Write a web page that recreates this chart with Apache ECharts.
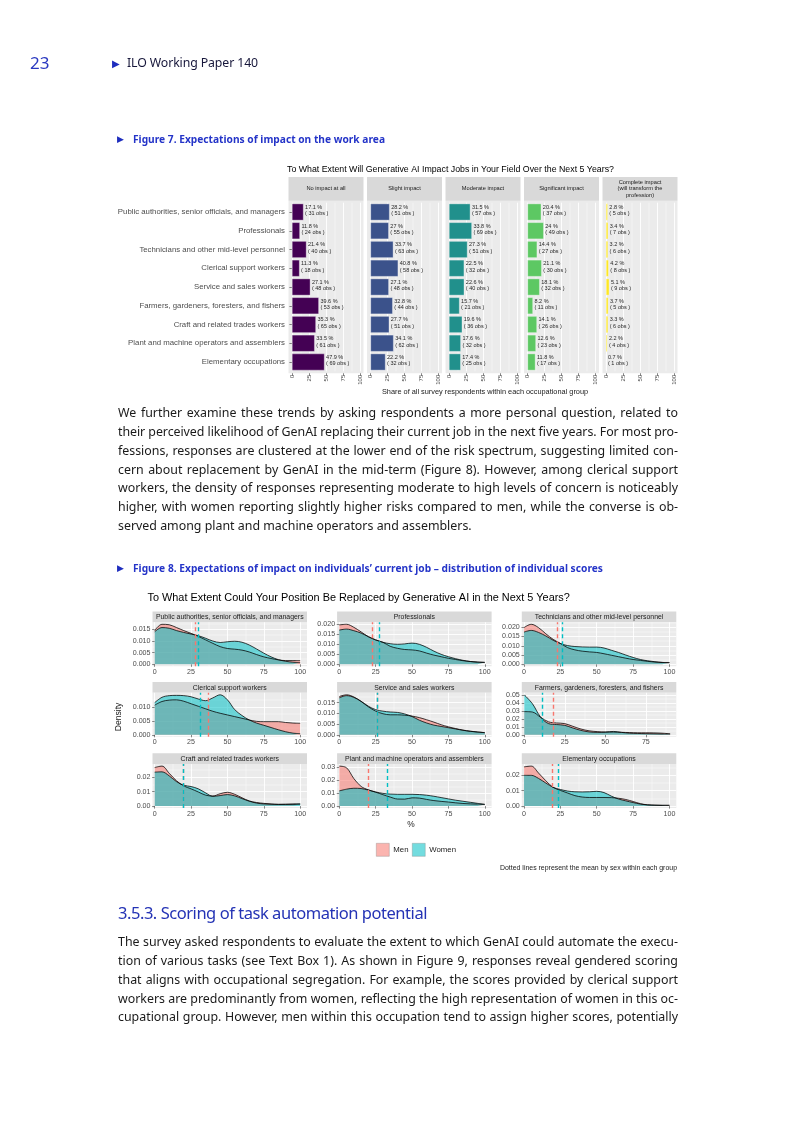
<!DOCTYPE html>
<html><head><meta charset="utf-8">
<script src="https://cdn.jsdelivr.net/npm/echarts@6/dist/echarts.min.js"></script>
<style>
html,body{margin:0;padding:0;background:#fff;}
#page{position:relative;width:793px;height:1121px;overflow:hidden;background:#fff;}
#chart{position:absolute;left:0;top:0;width:793px;height:1121px;z-index:1;}
.t{position:absolute;white-space:nowrap;font-family:"Noto Sans",sans-serif;color:#1a1a1a;z-index:2;}
.p{font-size:12.4px;line-height:18px;}
.ft{font-size:10.2px;line-height:12px;font-weight:bold;color:#2434C8;}
</style></head><body>
<div id="page">
<div id="chart"></div>
<div class="t" style="left:30px;top:52px;font-size:17px;line-height:22px;color:#2a38c0;">23</div>
<div class="t" style="left:112px;top:56px;font-size:10px;line-height:14px;color:#1E2DBE;">▶</div>
<div class="t" data-w="131" style="left:127px;top:55px;font-size:12.3px;line-height:16px;color:#16163a;">ILO Working Paper 140</div>

<div class="t" style="left:117px;top:133px;font-size:8.5px;line-height:12px;color:#1E2DBE;">▶</div>
<div class="t ft" data-w="252" data-m="ls" style="left:133px;top:133px;">Figure 7. Expectations of impact on the work area</div>

<div class="t p" data-w="560" style="left:118px;top:404px;">We further examine these trends by asking respondents a more personal question, related to</div>
<div class="t p" data-w="560" style="left:118px;top:423px;">their perceived likelihood of GenAI replacing their current job in the next five years. For most pro-</div>
<div class="t p" data-w="560" style="left:118px;top:442px;">fessions, responses are clustered at the lower end of the risk spectrum, suggesting limited con-</div>
<div class="t p" data-w="560" style="left:118px;top:460.5px;">cern about replacement by GenAI in the mid-term (Figure 8). However, among clerical support</div>
<div class="t p" data-w="560" style="left:118px;top:479px;">workers, the density of responses representing moderate to high levels of concern is noticeably</div>
<div class="t p" data-w="560" style="left:118px;top:498px;">higher, with women reporting slightly higher risks compared to men, while the converse is ob-</div>
<div class="t p" style="left:118px;top:517px;">served among plant and machine operators and assemblers.</div>

<div class="t" style="left:117px;top:562px;font-size:8.5px;line-height:12px;color:#1E2DBE;">▶</div>
<div class="t ft" data-w="470" data-m="ls" style="left:133px;top:562px;">Figure 8. Expectations of impact on individuals’ current job – distribution of individual scores</div>

<div class="t" data-w="309" data-m="ls" style="left:118px;top:902px;font-size:16.5px;line-height:22px;color:#2433B5;">3.5.3. Scoring of task automation potential</div>

<div class="t p" data-w="560" style="left:118px;top:933px;">The survey asked respondents to evaluate the extent to which GenAI could automate the execu-</div>
<div class="t p" data-w="560" style="left:118px;top:952px;">tion of various tasks (see Text Box 1). As shown in Figure 9, responses reveal gendered scoring</div>
<div class="t p" data-w="560" style="left:118px;top:971px;">that aligns with occupational segregation. For example, the scores provided by clerical support</div>
<div class="t p" data-w="560" style="left:118px;top:990px;">workers are predominantly from women, reflecting the high representation of women in this oc-</div>
<div class="t p" data-w="560" style="left:118px;top:1008px;">cupational group. However, men within this occupation tend to assign higher scores, potentially</div>
</div>
<script>
// ---------- Figure 7 data ----------
const occupations = ['Public authorities, senior officials, and managers','Professionals','Technicians and other mid-level personnel','Clerical support workers','Service and sales workers','Farmers, gardeners, foresters, and fishers','Craft and related trades workers','Plant and machine operators and assemblers','Elementary occupations'];
const impactLevels = ['No impact at all','Slight impact','Moderate impact','Significant impact','Complete impact\n(will transform the\nprofession)'];
const shareNone = [17.1,11.8,21.4,11.3,27.1,39.6,35.3,33.5,47.9];
const obsNone = [31,24,40,18,48,53,65,61,69];
const shareSlight = [28.2,27,33.7,40.8,27.1,32.8,27.7,34.1,22.2];
const obsSlight = [51,55,63,58,48,44,51,62,32];
const shareModerate = [31.5,33.8,27.3,22.5,22.6,15.7,19.6,17.6,17.4];
const obsModerate = [57,69,51,32,40,21,36,32,25];
const shareSignificant = [20.4,24,14.4,21.1,18.1,8.2,14.1,12.6,11.8];
const obsSignificant = [37,49,27,30,32,11,26,23,17];
const shareComplete = [2.8,3.4,3.2,4.2,5.1,3.7,3.3,2.2,0.7];
const obsComplete = [5,7,6,8,9,5,6,4,1];
const shareTicks = [0,25,50,75,100];
const shareMinorTicks = [12.5,37.5,62.5,87.5];

// ---------- Figure 8 data ----------
const panelNames = ['Public authorities, senior officials, and managers','Professionals','Technicians and other mid-level personnel','Clerical support workers','Service and sales workers','Farmers, gardeners, foresters, and fishers','Craft and related trades workers','Plant and machine operators and assemblers','Elementary occupations'];
const scoreGrid = [0,5,10,15,20,25,30,35,40,45,50,55,60,65,70,75,80,85,90,95,100];
const scoreGridFarmers = [0,5,10,15,20,25,30,35,40,45,50,55,60,65,70,75,80,85,90];
const menPublic = [0.0145,0.0172,0.0170,0.0158,0.0145,0.0133,0.0120,0.0105,0.0090,0.0076,0.0068,0.0065,0.0061,0.0053,0.0042,0.0032,0.0025,0.0019,0.0016,0.0016,0.0016];
const womenPublic = [0.0140,0.0158,0.0155,0.0145,0.0137,0.0130,0.0123,0.0112,0.0100,0.0094,0.0097,0.0099,0.0095,0.0083,0.0066,0.0048,0.0032,0.0020,0.0013,0.0009,0.0007];
const menProf = [0.0197,0.0200,0.0185,0.0162,0.0138,0.0122,0.0110,0.0090,0.0080,0.0074,0.0072,0.0067,0.0056,0.0046,0.0038,0.0030,0.0024,0.0018,0.0014,0.0011,0.0010];
const womenProf = [0.0171,0.0176,0.0168,0.0156,0.0138,0.0122,0.0110,0.0103,0.0100,0.0102,0.0106,0.0100,0.0085,0.0066,0.0050,0.0038,0.0028,0.0020,0.0014,0.0011,0.0009];
const menTech = [0.0198,0.0216,0.0198,0.0165,0.0135,0.0113,0.0090,0.0078,0.0071,0.0067,0.0064,0.0057,0.0049,0.0041,0.0033,0.0026,0.0021,0.0016,0.0012,0.0010,0.0009];
const womenTech = [0.0174,0.0183,0.0172,0.0153,0.0130,0.0112,0.0101,0.0096,0.0094,0.0093,0.0093,0.0088,0.0076,0.0064,0.0050,0.0037,0.0026,0.0019,0.0014,0.0010,0.0009];
const menClerical = [0.0106,0.0119,0.0124,0.0125,0.0120,0.0111,0.0102,0.0093,0.0084,0.0077,0.0071,0.0065,0.0059,0.0053,0.0048,0.0047,0.0047,0.0047,0.0044,0.0042,0.0041];
const womenClerical = [0.0115,0.0134,0.0140,0.0141,0.0140,0.0136,0.0128,0.0122,0.0132,0.0143,0.0125,0.0090,0.0069,0.0053,0.0042,0.0034,0.0026,0.0018,0.0011,0.0006,0.0004];
const menService = [0.0178,0.0186,0.0176,0.0155,0.0130,0.0110,0.0098,0.0093,0.0093,0.0091,0.0087,0.0080,0.0070,0.0059,0.0047,0.0037,0.0029,0.0022,0.0017,0.0013,0.0010];
const womenService = [0.0172,0.0182,0.0174,0.0156,0.0133,0.0117,0.0110,0.0106,0.0104,0.0097,0.0085,0.0068,0.0055,0.0045,0.0039,0.0033,0.0027,0.0021,0.0016,0.0013,0.0010];
const menFarmers = [0.0290,0.0285,0.0220,0.0162,0.0148,0.0140,0.0106,0.0072,0.0050,0.0040,0.0034,0.0034,0.0031,0.0028,0.0025,0.0025,0.0024,0.0020,0.0013];
const womenFarmers = [0.0500,0.0390,0.0225,0.0140,0.0128,0.0118,0.0085,0.0055,0.0036,0.0030,0.0034,0.0042,0.0030,0.0020,0.0017,0.0014,0.0012,0.0010,0.0008];
const menCraft = [0.0268,0.0278,0.0228,0.0176,0.0140,0.0120,0.0098,0.0076,0.0070,0.0086,0.0096,0.0082,0.0058,0.0036,0.0025,0.0019,0.0015,0.0012,0.0012,0.0012,0.0012];
const womenCraft = [0.0236,0.0238,0.0210,0.0170,0.0145,0.0136,0.0120,0.0092,0.0068,0.0073,0.0080,0.0071,0.0052,0.0034,0.0021,0.0015,0.0013,0.0012,0.0013,0.0015,0.0017];
const menPlant = [0.0305,0.0292,0.0210,0.0150,0.0124,0.0106,0.0087,0.0069,0.0054,0.0053,0.0063,0.0061,0.0051,0.0042,0.0036,0.0031,0.0025,0.0020,0.0017,0.0015,0.0013];
const womenPlant = [0.0116,0.0129,0.0136,0.0134,0.0122,0.0108,0.0097,0.0092,0.0090,0.0090,0.0090,0.0088,0.0083,0.0075,0.0065,0.0055,0.0045,0.0037,0.0029,0.0021,0.0013];
const menElementary = [0.0255,0.0260,0.0215,0.0165,0.0122,0.0102,0.0085,0.0068,0.0059,0.0056,0.0056,0.0056,0.0055,0.0051,0.0043,0.0030,0.0016,0.0008,0.0006,0.0005,0.0005];
const womenElementary = [0.0200,0.0200,0.0180,0.0150,0.0122,0.0108,0.0098,0.0093,0.0092,0.0093,0.0096,0.0088,0.0065,0.0046,0.0034,0.0023,0.0013,0.0008,0.0006,0.0005,0.0005];
const meanMen = [28.0,22.5,23.0,37.0,26.0,17.7,19.5,19.6,19.6];
const meanWomen = [29.7,27.8,26.6,31.5,26.4,11.1,19.7,33.2,23.7];
const densityTicks = [[0,0.005,0.010,0.015],[0,0.005,0.010,0.015,0.020],[0,0.005,0.010,0.015,0.020],[0,0.005,0.010],[0,0.005,0.010,0.015],[0,0.01,0.02,0.03,0.04,0.05],[0,0.01,0.02],[0,0.01,0.02,0.03],[0,0.01,0.02]];
const scoreTicks = [0,25,50,75,100];
const scoreTicksFarmers = [0,25,50,75];
const scoreMinorTicks = [12.5,37.5,62.5,87.5];

// ---------- build ----------
const FONT = '"Liberation Sans", Arial, Helvetica, sans-serif';
const chart = echarts.init(document.getElementById('chart'), null, {renderer:'canvas', width:793, height:1121});
const grid=[], xAxis=[], yAxis=[], series=[], graphic=[];
const txt = (text,x,y,size,opts={}) => ({type:'text', silent:true, z:5, x, y, rotation: opts.rotation||0,
  style:{text, fill:opts.fill||'#1a1a1a', fontSize:size, fontFamily:FONT, fontWeight:opts.weight||'normal',
  textAlign:opts.align||'left', textVerticalAlign:'middle', verticalAlign:'middle', lineHeight:opts.lh||size*1.15}});
const rect = (x,y,w,h,fill) => ({type:'rect', silent:true, z:-1, shape:{x,y,width:w,height:h}, style:{fill}});

// Figure 7
const impactShares = [shareNone,shareSlight,shareModerate,shareSignificant,shareComplete];
const impactObs = [obsNone,obsSlight,obsModerate,obsSignificant,obsComplete];
const viridis = ['#440154','#3B528B','#21908C','#5DC863','#FDE725'];
const f7 = {left0:288.5, step:78.5, w:75, stripTop:177, stripH:23.75, panelTop:200.75, panelH:172.5};
const band = f7.panelH/ (occupations.length + 0.2);
const g7Top = f7.panelTop + 0.1*band, g7H = occupations.length*band;
const f7Offset = (f7.panelTop+f7.panelH) - (g7Top+g7H);
graphic.push(txt('To What Extent Will Generative AI Impact Jobs in Your Field Over the Next 5 Years?', 287, 169.5, 8.8, {fill:'#000'}));
impactLevels.forEach((lvl,i)=>{
  const L = f7.left0 + i*f7.step;
  const gi = grid.length;
  grid.push({left:L, top:g7Top, width:f7.w, height:g7H, containLabel:false});
  graphic.push(rect(L, f7.panelTop, f7.w, f7.panelH, '#EBEBEB'));
  graphic.push(rect(L, f7.stripTop, f7.w, f7.stripH, '#D9D9D9'));
  graphic.push(txt(lvl, L+f7.w/2, f7.stripTop+f7.stripH/2, 5.7, {align:'center', lh:6.2, fill:'#1a1a1a'}));
  const xi = xAxis.length;
  xAxis.push({type:'value', gridIndex:gi, min:-5, max:105, offset:f7Offset, axisLine:{show:false},
    axisTick:{show:true, length:2.5, customValues:shareTicks, lineStyle:{color:'#333', width:0.6}},
    axisLabel:{customValues:shareTicks, rotate:90, fontSize:6, color:'#4D4D4D', margin:1.5, fontFamily:FONT},
    splitLine:{show:true, lineStyle:{color:'#fff', width:0.9}}});
  xAxis.push({type:'value', gridIndex:gi, min:-5, max:105, position:'bottom', axisLine:{show:false},
    axisTick:{show:false, customValues:shareMinorTicks}, axisLabel:{show:false, customValues:shareMinorTicks},
    splitLine:{show:true, lineStyle:{color:'#fff', width:0.45}}});
  const yi = yAxis.length;
  yAxis.push({type:'category', gridIndex:gi, data:occupations, inverse:true, axisLine:{show:false},
    axisTick:{show:i===0, length:2.5, alignWithLabel:true, lineStyle:{color:'#333', width:0.6}},
    axisLabel:{show:i===0, fontSize:7.8, color:'#4D4D4D', margin:3.5, fontFamily:FONT},
    splitLine:{show:false}});
  const sh = impactShares[i], ob = impactObs[i];
  series.push({type:'bar', name:lvl, xAxisIndex:xi, yAxisIndex:yi, data:sh, barCategoryGap:'10%', silent:true,
    itemStyle:{color:viridis[i], borderColor:'rgba(255,255,255,0.55)', borderWidth:0.6},
    label:{show:true, position:'right', distance:1.5, offset:[0,-1.5], fontSize:5.5, lineHeight:6.5, color:'#262626', fontFamily:FONT, align:'left',
      formatter:p=>sh[p.dataIndex]+' %\n( '+ob[p.dataIndex]+' obs )'}});
});
graphic.push(txt('Share of all survey respondents within each occupational group', 485, 392, 7.35, {align:'center', fill:'#1a1a1a'}));

// Figure 8
const menSets = [menPublic,menProf,menTech,menClerical,menService,menFarmers,menCraft,menPlant,menElementary];
const womenSets = [womenPublic,womenProf,womenTech,womenClerical,womenService,womenFarmers,womenCraft,womenPlant,womenElementary];
const f8 = {colLeft:[152.5,337.1,521.8], w:154.5, stripTop:[611.5,682,753.3], stripH:10.8, panelH:44};
graphic.push(txt('To What Extent Could Your Position Be Replaced by Generative AI in the Next 5 Years?', 147.5, 598, 10.9, {fill:'#000'}));
const MEN_FILL = '#F8766D', WOMEN_FILL = '#00BFC4';
panelNames.forEach((nm,p)=>{
  const r = Math.floor(p/3), c = p%3;
  const L = f8.colLeft[c], T = f8.stripTop[r] + f8.stripH;
  const gi = grid.length;
  grid.push({left:L, top:T, width:f8.w, height:f8.panelH, show:true, backgroundColor:'#EBEBEB', borderWidth:0, containLabel:false});
  graphic.push(rect(L, f8.stripTop[r], f8.w, f8.stripH, '#D9D9D9'));
  graphic.push(txt(nm, L+f8.w/2, f8.stripTop[r]+f8.stripH/2+0.3, 6.9, {align:'center', fill:'#1a1a1a'}));
  const xs = (p===5) ? scoreGridFarmers : scoreGrid;
  const xmax = (p===5) ? 93.8 : 104.7;
  const xt = (p===5) ? scoreTicksFarmers : scoreTicks;
  const men = menSets[p], women = womenSets[p];
  const m = Math.max(...men, ...women);
  const ymin = -0.05*m, ymax = 1.05*m;
  const yt = densityTicks[p];
  const ystep = yt[1]-yt[0];
  const yminor = yt.map(v=>v+ystep/2).filter(v=>v<ymax);
  const dec = p<5 ? 3 : 2;
  const xi = xAxis.length;
  xAxis.push({type:'value', gridIndex:gi, min:-1.5, max:xmax, axisLine:{show:false},
    axisTick:{show:true, length:2.5, customValues:xt, lineStyle:{color:'#333', width:0.6}},
    axisLabel:{customValues:xt, fontSize:7.1, color:'#4D4D4D', margin:2, fontFamily:FONT},
    splitLine:{show:true, lineStyle:{color:'#fff', width:0.9}}});
  xAxis.push({type:'value', gridIndex:gi, min:-1.5, max:xmax, position:'bottom', axisLine:{show:false},
    axisTick:{show:false, customValues:scoreMinorTicks.filter(v=>v<xmax)}, axisLabel:{show:false, customValues:scoreMinorTicks.filter(v=>v<xmax)},
    splitLine:{show:true, lineStyle:{color:'#fff', width:0.45}}});
  const yi = yAxis.length;
  yAxis.push({type:'value', gridIndex:gi, min:ymin, max:ymax, axisLine:{show:false},
    axisTick:{show:true, length:2.5, customValues:yt, lineStyle:{color:'#333', width:0.6}},
    axisLabel:{customValues:yt, fontSize:7.1, color:'#4D4D4D', margin:2, fontFamily:FONT, formatter:v=>Number(v).toFixed(dec)},
    splitLine:{show:true, lineStyle:{color:'#fff', width:0.9}}});
  yAxis.push({type:'value', gridIndex:gi, min:ymin, max:ymax, position:'left', axisLine:{show:false},
    axisTick:{show:false, customValues:yminor}, axisLabel:{show:false, customValues:yminor},
    splitLine:{show:true, lineStyle:{color:'#fff', width:0.45}}});
  const mk = (name, vals, fill, mean) => ({type:'line', name, xAxisIndex:xi, yAxisIndex:yi, silent:true,
    data: vals.map((v,k)=>[xs[k], v]), smooth:0.35, symbol:'none', showSymbol:false, z:3,
    lineStyle:{color:'#000', width:0.75}, itemStyle:{color:fill, opacity:0.55},
    areaStyle:{color:fill, opacity:0.55},
    markLine:{silent:true, symbol:'none', label:{show:false}, animation:false,
      lineStyle:{color:fill, type:[4,3], width:1.4, opacity:1}, data:[{xAxis:mean}]}});
  series.push(mk('Men', men, MEN_FILL, meanMen[p]));
  series.push(mk('Women', women, WOMEN_FILL, meanWomen[p]));
});
graphic.push(txt('Density', 118.5, 717, 8.6, {align:'center', rotation:Math.PI/2, fill:'#1a1a1a'}));
graphic.push(txt('%', 411, 825, 8.4, {align:'center', fill:'#1a1a1a'}));
graphic.push(txt('Dotted lines represent the mean by sex within each group', 677, 868, 6.95, {align:'right', fill:'#1a1a1a'}));

chart.setOption({
  animation:false,
  textStyle:{fontFamily:FONT},
  grid, xAxis, yAxis, series, graphic,
  legend:{data:['Men','Women'], left:376, top:843, padding:0, icon:'rect', itemWidth:13, itemHeight:13, itemGap:3.5,
    itemStyle:{borderColor:'#777', borderWidth:0.6}, textStyle:{fontSize:7.8, color:'#1a1a1a', fontFamily:FONT, padding:[0,0,0,-1]}, selectedMode:false}
});

// fit text lines to measured widths
function fitLines(){
  document.querySelectorAll('[data-w]').forEach(el=>{
    el.style.wordSpacing='0px'; el.style.letterSpacing='0px';
    const target = +el.dataset.w;
    const w = el.getBoundingClientRect().width;
    const n = (el.textContent.match(/ /g)||[]).length;
    if (w > target || el.dataset.m === 'ls' || n === 0) {
      el.style.letterSpacing = ((target - w)/el.textContent.length)+'px';
    } else {
      el.style.wordSpacing = ((target - w)/n)+'px';
    }
  });
}
fitLines();
if (document.fonts && document.fonts.ready) document.fonts.ready.then(fitLines);
</script>
</body></html>
